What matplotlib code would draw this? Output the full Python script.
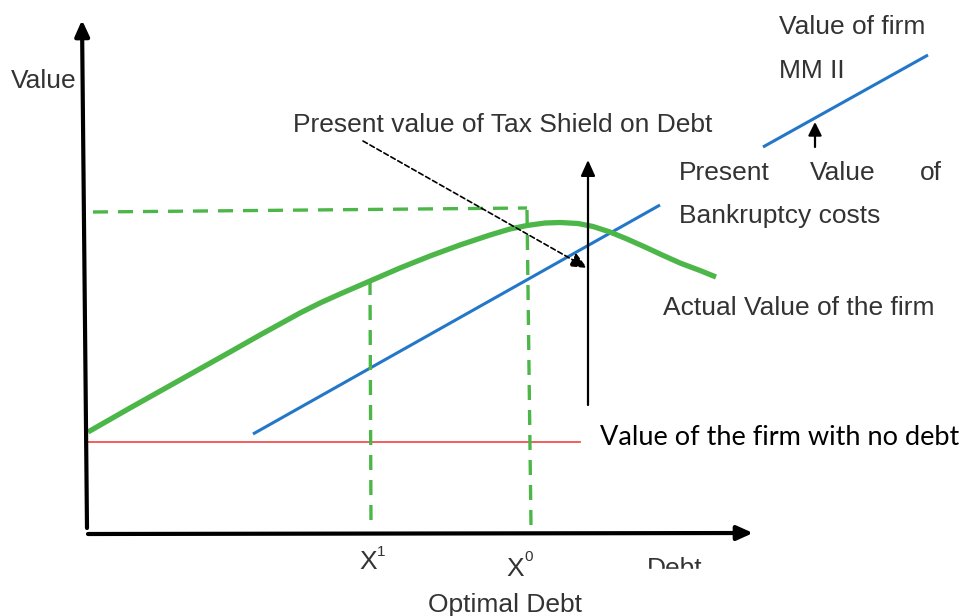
import matplotlib
matplotlib.use("Agg")
import matplotlib.pyplot as plt

# diagram, in pixel coords (y grows downward)
green_x = [88, 130, 180, 230, 260, 280, 300, 320, 340, 370, 400, 430, 460, 490, 510, 527,
           545, 560, 578, 593, 610, 627, 645, 660, 680, 700, 716]
green_y = [432, 408, 380, 352, 335, 324, 313, 303, 294, 281, 268, 256, 245, 235, 229, 225.5,
           223, 222.5, 223.5, 226.5, 232, 239, 247, 254, 263, 270.5, 277]

blue_low_x = [253, 660]
blue_low_y = [434, 205]
blue_high_x = [763, 928]
blue_high_y = [147, 55]

red_x = [88, 580]
red_y = [442, 442]

x1_pos = 370
x0_pos = 527
optimum_level = 210
x1_top = 280
axis_bottom = 534

GREEN = "#4cb748"
BLUE = "#2377c9"
RED = "#f0524f"
TXT = "#333333"

fig = plt.figure(figsize=(9.61, 6.16), dpi=100)
ax = fig.add_axes([0, 0, 1, 1])
ax.set_xlim(0, 961)
ax.set_ylim(616, 0)
ax.axis("off")

# curves
ax.plot(red_x, red_y, color=RED, lw=1.3)
ax.plot(blue_low_x, blue_low_y, color=BLUE, lw=2.2, solid_capstyle="butt")
ax.plot(blue_high_x, blue_high_y, color=BLUE, lw=2.2, solid_capstyle="butt")
ax.plot(green_x, green_y, color=GREEN, lw=3.8, solid_capstyle="butt", solid_joinstyle="round")

# dashed guides
dash = (0, (4.5, 3))
ax.plot([93, x0_pos], [optimum_level + 2, optimum_level - 2], color=GREEN, lw=2.4, ls=dash)
ax.plot([x0_pos, x0_pos + 4], [optimum_level, axis_bottom - 8], color=GREEN, lw=2.4, ls=dash)
ax.plot([x1_pos, x1_pos + 1], [x1_top, axis_bottom - 8], color=GREEN, lw=2.4, ls=dash)

# axes arrows
def arrow(start, tip, lw, hl=0.95, hw=0.43, ls="-"):
    ax.annotate("", xy=tip, xytext=start,
                arrowprops=dict(arrowstyle="-|>,head_length=%s,head_width=%s" % (hl, hw),
                                lw=lw, color="black", linestyle=ls,
                                shrinkA=0, shrinkB=0, mutation_scale=10))

arrow((87, 528), (82, 20), 3)
arrow((88, 534), (753, 533), 3)
arrow((588, 405), (588, 160), 1.6)
arrow((815, 147), (815, 122), 1.6, hl=0.8, hw=0.4)
ax.annotate("", xy=(587, 268), xytext=(363, 141),
            arrowprops=dict(arrowstyle="-|>,head_length=1.0,head_width=0.45",
                            lw=1.2, color="black", linestyle=(0, (3, 1.8)),
                            shrinkA=0, shrinkB=0, mutation_scale=10))

# labels
font = dict(family="Liberation Sans", color=TXT, fontsize=19, va="baseline")
sup = dict(family="Liberation Sans", color=TXT, fontsize=11, va="baseline")
ax.text(11, 88, "Value", **font)
ax.text(293, 132, "Present value of Tax Shield on Debt", **font)
ax.text(779, 34, "Value of firm", **font)
ax.text(779, 78, "MM II", **font)
ax.text(679, 180, "Present", **font)
ax.text(810, 180, "Value", **font)
ax.text(920, 180, "of", **font)
ax.text(679, 223, "Bankruptcy costs", **font)
ax.text(663, 315, "Actual Value of the firm", **font)

ax.text(359, 569, "X", **font)
ax.text(377, 556, "1", **sup)
ax.text(506, 576, "X", **font)
ax.text(524, 561, "0", **sup)
ax.text(505, 612, "Optimal Debt", family="Liberation Sans", color=TXT, fontsize=19,
        va="baseline", ha="center")
ax.text(647, 576, "Debt", **font)
# the Debt label is cut off at the bottom in the source image
ax.add_patch(plt.Rectangle((600, 569), 200, 14, color="white", zorder=5))

ax.text(600, 445, "Value of the firm with no debt", family="Lato", color="black",
        fontsize=19.5, va="baseline")

fig.savefig("out.png", dpi=100)
